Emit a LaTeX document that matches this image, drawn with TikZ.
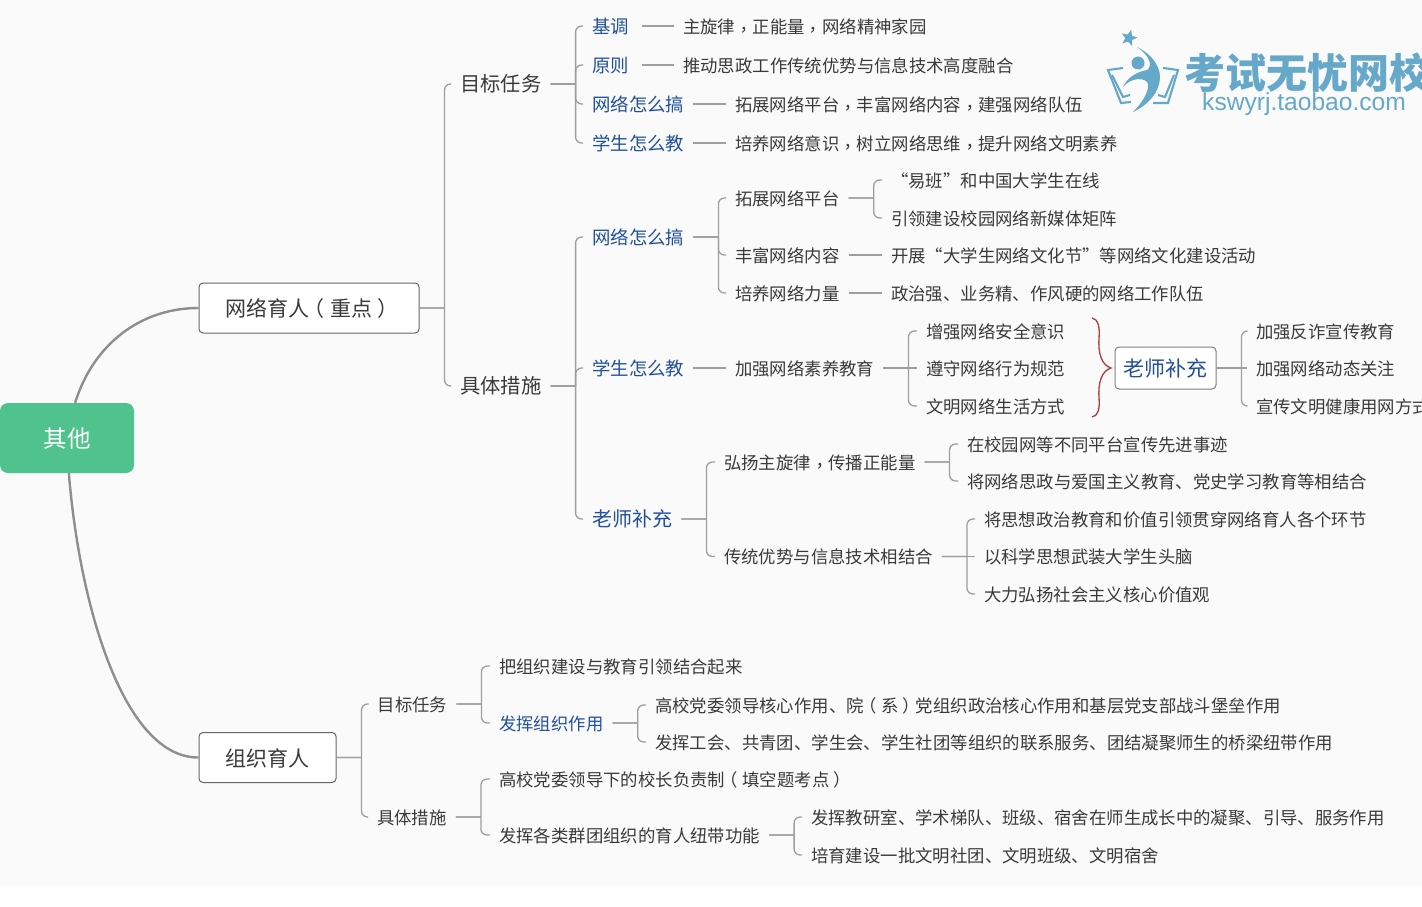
\documentclass[tikz,border=0pt]{standalone}
\usepackage{fontspec}
\setmainfont{Noto Sans CJK SC}
\newfontfamily\latinfont{Liberation Sans}
\newfontfamily\tcfont{Noto Sans CJK TC}
\newcommand{\dou}{\raisebox{-.2em}{\tcfont ，}}
\newcommand{\lpar}{\kern-.25em（\kern.25em}
\newcommand{\rpar}{\kern.25em）\kern-.25em}
\usetikzlibrary{shapes.geometric}
\definecolor{canvas}{HTML}{FAFAFA}
\definecolor{ink}{HTML}{3A3A3A}
\definecolor{linkblue}{HTML}{22509E}
\definecolor{rootgreen}{HTML}{50C28D}
\definecolor{twig}{HTML}{9E9E9E}
\definecolor{stem}{HTML}{8E8E8E}
\definecolor{bracered}{HTML}{B5393C}
\definecolor{stamp}{HTML}{66A8C9}

\begin{document}
\begin{tikzpicture}[
    x=1pt, y=-1pt,
    leaf/.style={anchor=west, inner xsep=9pt, inner ysep=0pt, text=ink, text height=16pt, text depth=1.4pt,
        font=\fontsize{17.38}{20}\selectfont},
    tip/.style={leaf, text=linkblue, font=\fontsize{18.4}{20}\selectfont},
    head/.style={leaf, font=\fontsize{20.3}{22}\selectfont},
    topic/.style={draw=black!60, line width=1pt, fill=white, rounded corners=4pt, text=ink, inner sep=0pt, minimum height=50pt,
        text height=18pt, text depth=.4pt, font=\fontsize{21}{24}\selectfont},
    root/.style={fill=rootgreen, rounded corners=8pt, text=white, inner sep=0pt, minimum width=134pt, minimum height=70pt,
        text height=20pt, text depth=.2pt, font=\fontsize{23.5}{26}\selectfont},
    branch/.style={draw=twig, line width=1.3pt, rounded corners=6pt},
    curve/.style={draw=stem, line width=2.4pt},
    brace/.style={draw=bracered, line width=1.3pt},
    stampline/.style={draw=stamp, line width=2.1pt}
]
\useasboundingbox (0,0) rectangle (1422,907);
\fill[canvas] (0,0) rectangle (1422,886);

% watermark
\node[star, star points=5, star point ratio=2.3, fill=stamp, inner sep=0pt, minimum size=17pt, rotate=-15] (logostar) at (1129,38) {};
\node[circle, fill=stamp, inner sep=0pt, minimum size=13pt] (logohead) at (1138,63) {};
\fill[stamp] (1137,47) .. controls (1150,53) and (1160,65) .. (1160,77) .. controls (1160,92) and (1148,105) .. (1133,112)
    .. controls (1142,103) and (1149,92) .. (1148,84) .. controls (1147,78) and (1132,76) .. (1123,87)
    .. controls (1127,78) and (1136,72) .. (1147,70) .. controls (1153,66) and (1150,56) .. (1137,47) -- cycle;
\draw[stampline] (1123,68) -- (1108,70) -- (1121,103) -- (1131,102);
\draw[stampline] (1112,75) -- (1123,97) -- (1130,95);
\draw[stampline] (1163,68) -- (1178,70) -- (1168,103) -- (1153,103);
\draw[stampline] (1174,75) -- (1165,97) -- (1158,95);
\node[anchor=west, inner sep=0pt, text=stamp, font=\fontsize{41}{44}\bfseries] (logoname) at (1184.5,73) {考试无忧网校};
\node[anchor=west, inner sep=0pt, text=stamp, font=\latinfont\fontsize{24.6}{26}\selectfont] (logourl) at (1202,104) {kswyrj.taobao.com};

\node[root] (other) at (67,438) {其他};
\node[topic, minimum width=220pt] (net) at (309,308) {网络育人\lpar 重点\rpar};
\node[topic, minimum width=137pt] (org) at (267.5,757.5) {组织育人};
\node[topic, draw=black!50, minimum width=101pt, minimum height=42pt, text=linkblue] (extra) at (1165.5,368) {老师补充};

\node[head] (goal) at (451,84) {目标任务};
\node[head] (step) at (451,386) {具体措施};

\node[tip] (tone) at (583,26) {基调};
\node[tip] (rule) at (583,65) {原则};
\node[tip] (how) at (583,104) {网络怎么搞};
\node[tip] (teach) at (583,143) {学生怎么教};
\node[leaf] (toneA) at (674,26) {主旋律\dou 正能量\dou 网络精神家园};
\node[leaf] (ruleA) at (674,65) {推动思政工作传统优势与信息技术高度融合};
\node[leaf] (howA) at (726,104) {拓展网络平台\dou 丰富网络内容\dou 建强网络队伍};
\node[leaf] (teachA) at (726,143) {培养网络意识\dou 树立网络思维\dou 提升网络文明素养};

\node[tip] (how2) at (583,237) {网络怎么搞};
\node[tip] (teach2) at (583,368) {学生怎么教};
\node[tip, font=\fontsize{20}{22}\selectfont] (add2) at (583,519) {老师补充};

\node[leaf] (platform) at (726,198) {拓展网络平台};
\node[leaf] (content) at (726,255) {丰富网络内容};
\node[leaf] (force) at (726,293) {培养网络力量};
\node[leaf] (yiban) at (882,180) {“易班”和中国大学生在线};
\node[leaf] (media) at (882,218) {引领建设校园网络新媒体矩阵};
\node[leaf] (festival) at (882,255) {开展“大学生网络文化节”等网络文化建设活动};
\node[leaf] (team) at (882,293) {政治强、业务精、作风硬的网络工作队伍};

\node[leaf] (literacy) at (726,368) {加强网络素养教育};
\node[leaf] (safe) at (917,331) {增强网络安全意识};
\node[leaf] (norm) at (917,368) {遵守网络行为规范};
\node[leaf] (life) at (917,406) {文明网络生活方式};
\node[leaf] (fraud) at (1247,331) {加强反诈宣传教育};
\node[leaf] (watch) at (1247,368) {加强网络动态关注};
\node[leaf] (health) at (1247,406) {宣传文明健康用网方式};

\node[leaf] (melody) at (715,462) {弘扬主旋律\dou 传播正能量};
\node[leaf] (merge) at (715,556.5) {传统优势与信息技术相结合};
\node[leaf] (campus) at (958,444) {在校园网等不同平台宣传先进事迹};
\node[leaf] (patriot) at (958,481) {将网络思政与爱国主义教育、党史学习教育等相结合};
\node[leaf] (thought) at (975,519) {将思想政治教育和价值引领贯穿网络育人各个环节};
\node[leaf] (science) at (975,556.5) {以科学思想武装大学生头脑};
\node[leaf] (values) at (975,594) {大力弘扬社会主义核心价值观};

\node[leaf] (orggoal) at (368.5,704) {目标任务};
\node[leaf] (orgstep) at (368,817) {具体措施};
\node[leaf] (join) at (490,666) {把组织建设与教育引领结合起来};
\node[tip, font=\fontsize{17.38}{20}\selectfont] (role) at (490,723) {发挥组织作用};
\node[leaf] (party) at (646,705) {高校党委领导核心作用、院\lpar 系\rpar 党组织政治核心作用和基层党支部战斗堡垒作用};
\node[leaf] (union) at (646,742) {发挥工会、共青团、学生会、学生社团等组织的联系服务、团结凝聚师生的桥梁纽带作用};
\node[leaf] (head) at (490,779) {高校党委领导下的校长负责制\lpar 填空题考点\rpar};
\node[leaf] (groups) at (490,835) {发挥各类群团组织的育人纽带功能};
\node[leaf] (office) at (802,817) {发挥教研室、学术梯队、班级、宿舍在师生成长中的凝聚、引导、服务作用};
\node[leaf] (club) at (802,855) {培育建设一批文明社团、文明班级、文明宿舍};

\draw[curve] (other.77) .. controls (93,345) and (140,308) .. (net.west);
\draw[curve] (other.273) .. controls (80,610) and (125,758) .. (org.west);

\foreach \p/\u in {net/goal,net/step,goal/tone,goal/rule,goal/how,goal/teach,step/how2,step/teach2,step/add2,
    how2/platform,how2/content,how2/force,platform/yiban,platform/media,literacy/safe,literacy/life,
    extra/fraud,extra/health,add2/melody,add2/merge,melody/campus,melody/patriot,merge/thought,merge/values,
    org/orggoal,org/orgstep,orggoal/join,orggoal/role,role/party,role/union,orgstep/head,orgstep/groups,
    groups/office,groups/club}{\draw[branch] (\p.east) -- ++(25,0) ++(0,0) |- (\u.west);}
\draw[branch, shorten <=4pt] (tone) -- (toneA);
\draw[branch, shorten <=4pt] (rule) -- (ruleA);
\draw[branch] (how) -- (howA);
\draw[branch] (teach) -- (teachA);
\draw[branch] (content) -- (festival);
\draw[branch] (force) -- (team);
\draw[branch] (teach2) -- (literacy);
\draw[branch] (literacy) -- (norm);
\draw[branch] (extra) -- (watch);
\draw[branch] (merge) -- (science);

% brace in front of the box
\coordinate (bracetop) at (1092,318);
\coordinate (bracetip) at (1111,368);
\coordinate (bracelow) at (1092,417);
\draw[brace] (bracetop) .. controls (1098,319) and (1100,327) .. (1099,338) .. controls (1098,352) and (1101,365) .. (bracetip)
    .. controls (1101,371) and (1098,384) .. (1099,398) .. controls (1100,409) and (1098,416) .. (bracelow);
\end{tikzpicture}
\end{document}
